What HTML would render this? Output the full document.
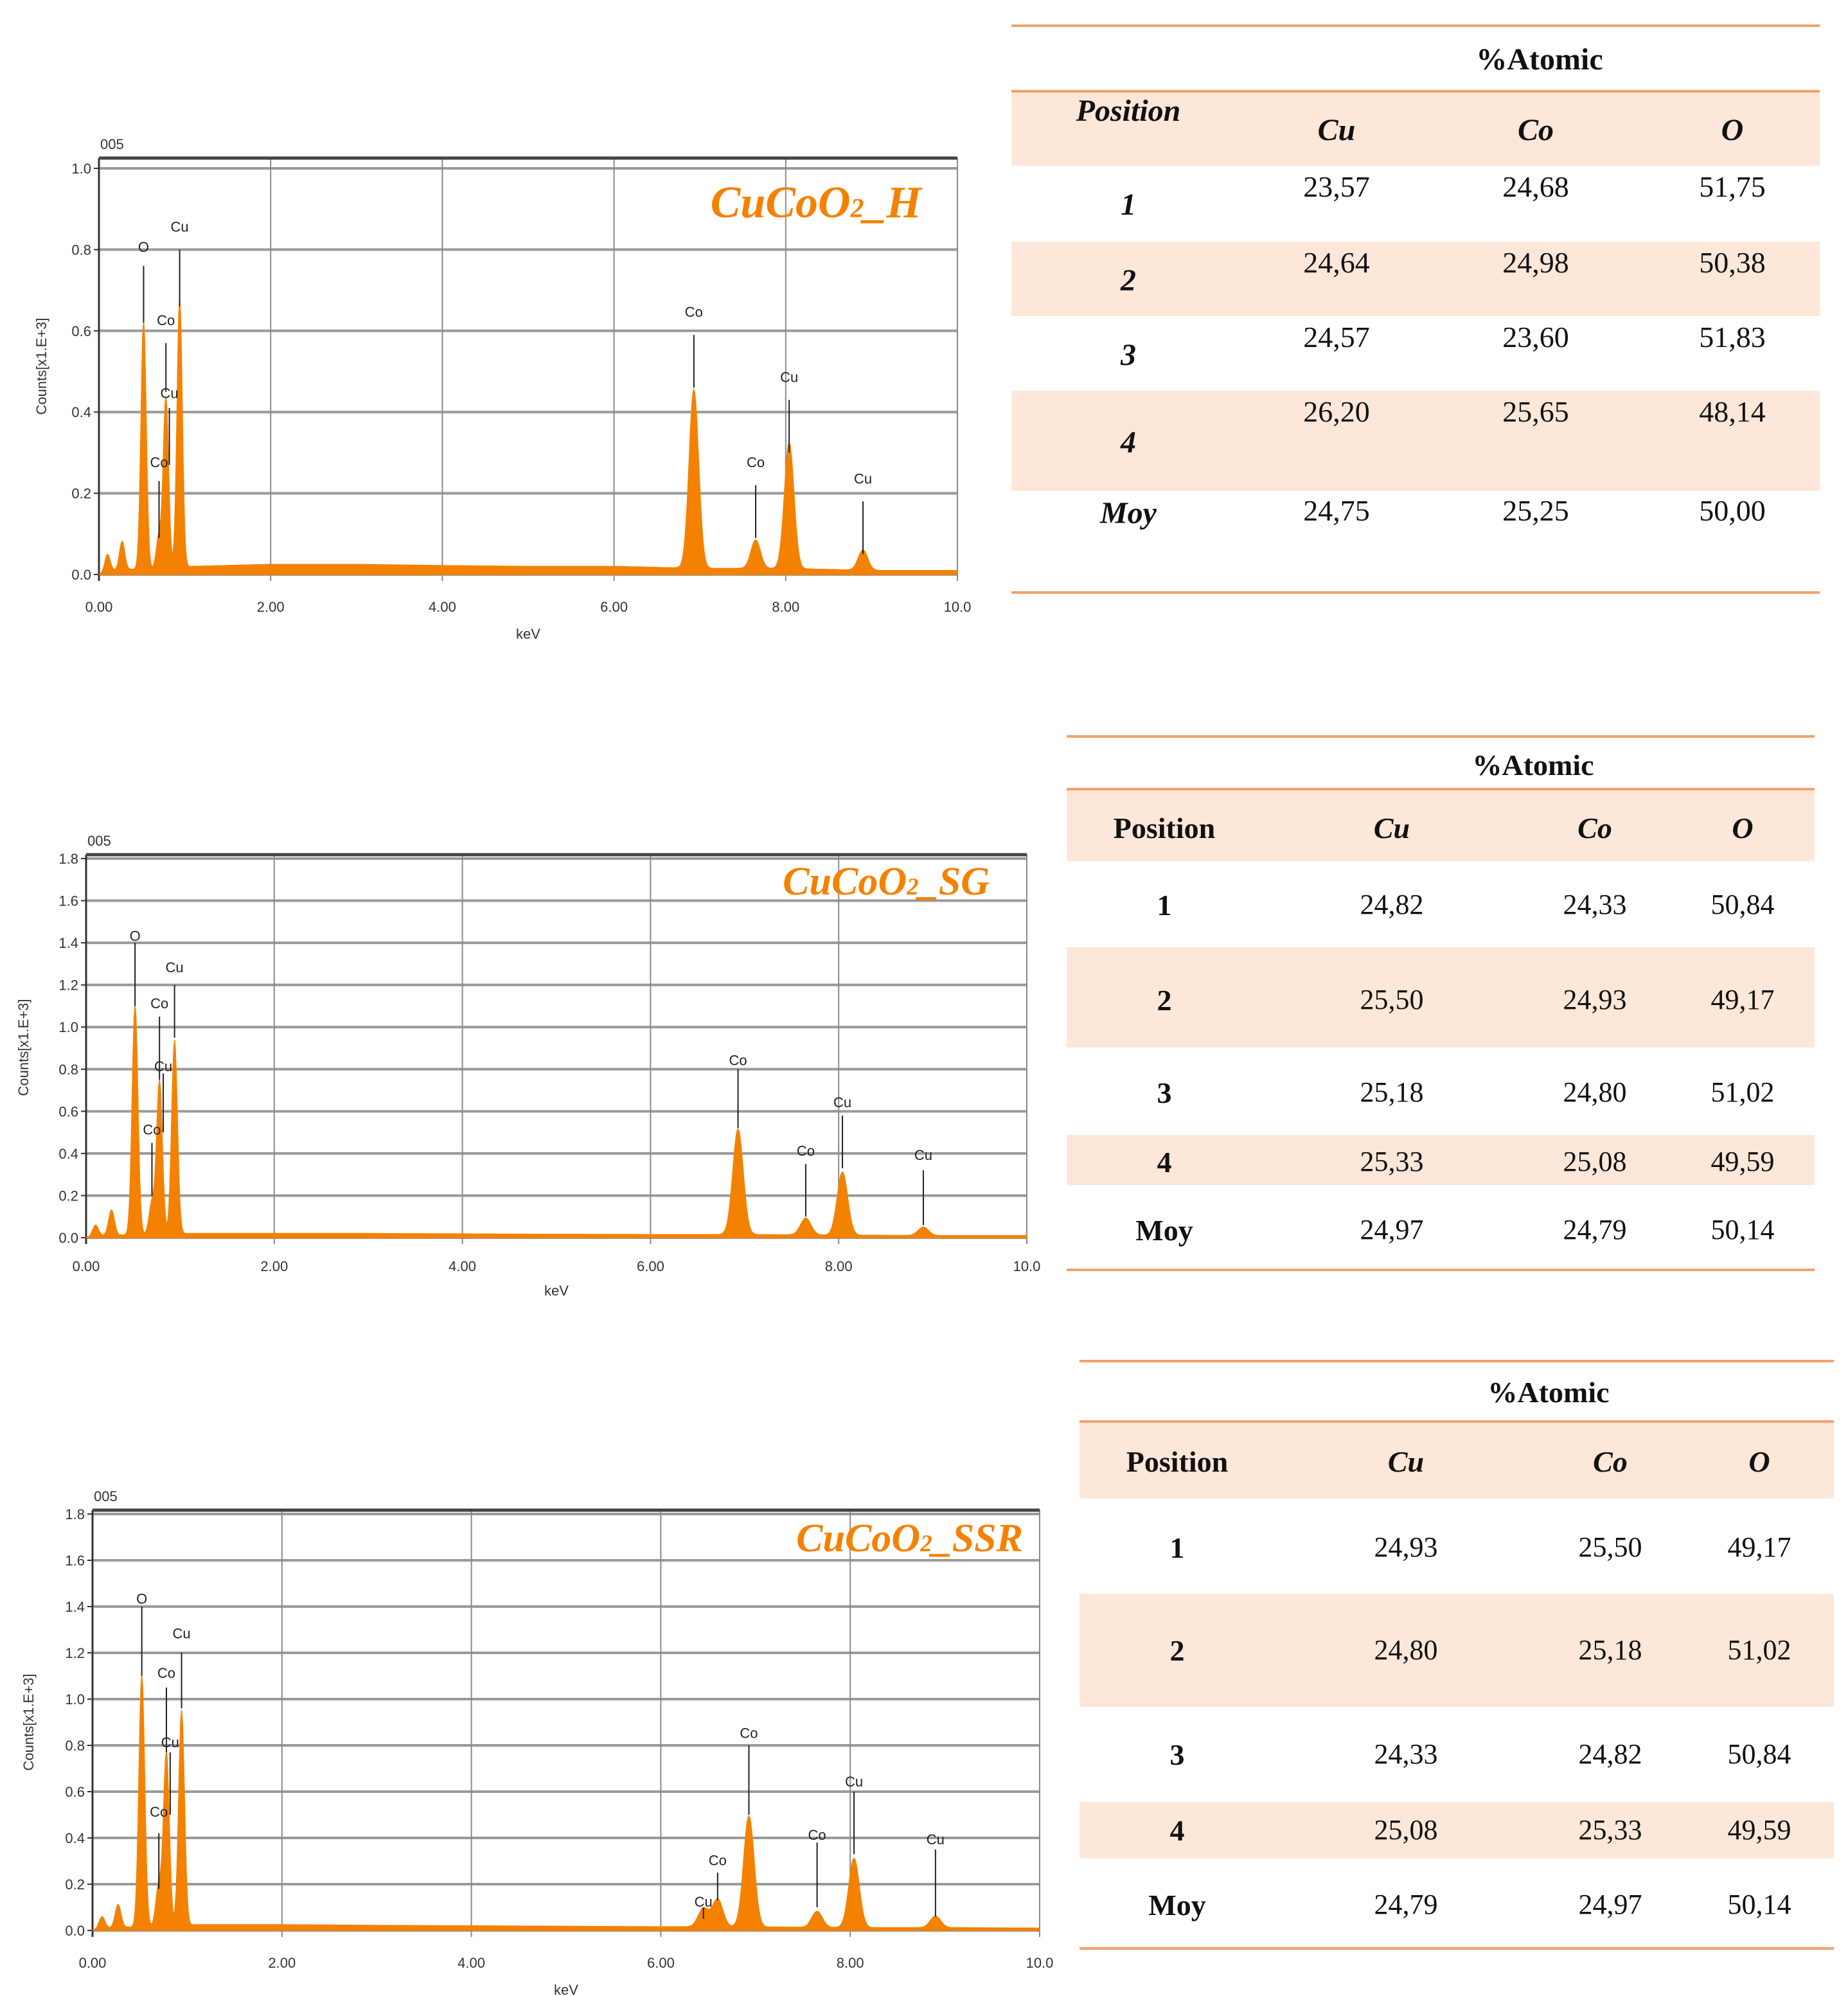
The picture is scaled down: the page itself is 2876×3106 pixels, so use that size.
<!DOCTYPE html>
<html><head><meta charset="utf-8">
<style>
html,body{margin:0;padding:0;background:#fff;}
svg{display:block;}
.tick{font-family:"Liberation Sans",sans-serif;font-size:22px;fill:#333;}
.pl{font-family:"Liberation Sans",sans-serif;font-size:22px;fill:#222;}
.tb{font-family:"Liberation Serif",serif;fill:#111;}
</style></head>
<body>
<svg id="root" width="2876" height="3106" viewBox="0 0 2876 3106" xmlns="http://www.w3.org/2000/svg"></svg>
<script>
// ---------- Chart data ----------
const c1PeakKeV = [0.10,0.27,0.52,0.70,0.78,0.94,6.93,7.65,8.04,8.90];
const c1PeakH   = [0.04,0.07,0.61,0.08,0.42,0.66,0.44,0.07,0.31,0.05];
const c1BgKeV   = [0,0.1,1.1,2,3,4,5,6,7,8,9,10];
const c1BgVal   = [0,0.01,0.02,0.025,0.025,0.022,0.02,0.02,0.015,0.015,0.01,0.01];
const c1LblText = ["O","Cu","Co","Cu","Co","Co","Co","Cu","Cu"];
const c1LblKeV  = [0.52,0.94,0.78,0.82,0.70,6.93,7.65,8.04,8.90];
const c1LblTop  = [0.81,0.86,0.63,0.45,0.28,0.65,0.28,0.49,0.24];
const c1LnTop   = [0.76,0.80,0.57,0.41,0.23,0.59,0.22,0.43,0.18];
const c1LnBot   = [0.62,0.66,0.45,0.27,0.09,0.46,0.09,0.30,0.05];

const c2PeakKeV = [0.10,0.27,0.52,0.70,0.78,0.94,6.93,7.65,8.04,8.90];
const c2PeakH   = [0.05,0.12,1.09,0.15,0.73,0.92,0.50,0.08,0.30,0.04];
const c2BgKeV   = [0,0.1,1.1,2,3,4,5,6,7,8,9,10];
const c2BgVal   = [0,0.01,0.02,0.02,0.02,0.018,0.016,0.015,0.015,0.012,0.01,0.01];
const c2LblText = ["O","Cu","Co","Cu","Co","Co","Co","Cu","Cu"];
const c2LblKeV  = [0.52,0.94,0.78,0.82,0.70,6.93,7.65,8.04,8.90];
const c2LblTop  = [1.44,1.29,1.12,0.82,0.52,0.85,0.42,0.65,0.40];
const c2LnTop   = [1.40,1.20,1.05,0.78,0.45,0.80,0.35,0.58,0.32];
const c2LnBot   = [1.10,0.95,0.75,0.50,0.20,0.52,0.10,0.33,0.06];

const c3PeakKeV = [0.10,0.27,0.52,0.70,0.78,0.94,6.45,6.60,6.93,7.65,8.04,8.90];
const c3PeakH   = [0.05,0.10,1.09,0.18,0.75,0.93,0.08,0.12,0.48,0.07,0.30,0.05];
const c3BgKeV   = [0,0.1,1.1,2,3,4,5,6,7,8,9,10];
const c3BgVal   = [0,0.01,0.025,0.025,0.022,0.02,0.018,0.016,0.015,0.012,0.012,0.01];
const c3LblText = ["O","Cu","Co","Cu","Co","Cu","Co","Co","Co","Cu","Cu"];
const c3LblKeV  = [0.52,0.94,0.78,0.82,0.70,6.45,6.60,6.93,7.65,8.04,8.90];
const c3LblTop  = [1.44,1.29,1.12,0.82,0.52,0.13,0.31,0.86,0.42,0.65,0.40];
const c3LnTop   = [1.40,1.20,1.05,0.77,0.42,0.10,0.25,0.80,0.38,0.60,0.35];
const c3LnBot   = [1.10,0.96,0.77,0.50,0.18,0.05,0.13,0.50,0.10,0.33,0.06];

const xTicks = ["0.00","2.00","4.00","6.00","8.00","10.0"];
const xTickVals = [0,2,4,6,8,10];
const yTicks1 = ["0.0","0.2","0.4","0.6","0.8","1.0"];
const yTickVals1 = [0,0.2,0.4,0.6,0.8,1.0];
const yTicks2 = ["0.0","0.2","0.4","0.6","0.8","1.0","1.2","1.4","1.6","1.8"];
const yTickVals2 = [0,0.2,0.4,0.6,0.8,1.0,1.2,1.4,1.6,1.8];

// ---------- Table data ----------
const t1Pos = ["1","2","3","4","Moy"];
const t1Cu = ["23,57","24,64","24,57","26,20","24,75"];
const t1Co = ["24,68","24,98","23,60","25,65","25,25"];
const t1O  = ["51,75","50,38","51,83","48,14","50,00"];
const t2Pos = ["1","2","3","4","Moy"];
const t2Cu = ["24,82","25,50","25,18","25,33","24,97"];
const t2Co = ["24,33","24,93","24,80","25,08","24,79"];
const t2O  = ["50,84","49,17","51,02","49,59","50,14"];
const t3Pos = ["1","2","3","4","Moy"];
const t3Cu = ["24,93","24,80","24,33","25,08","24,79"];
const t3Co = ["25,50","25,18","24,82","25,33","24,97"];
const t3O  = ["49,17","51,02","50,84","49,59","50,14"];

const NS="http://www.w3.org/2000/svg";
const root=document.getElementById('root');
function mk(tag,attrs,parent,text){const e=document.createElementNS(NS,tag);for(const k in attrs)e.setAttribute(k,attrs[k]);if(text!==undefined)e.textContent=text;(parent||root).appendChild(e);return e;}

function interp(xs,ys,x){for(let i=0;i<xs.length-1;i++){if(x>=xs[i]&&x<=xs[i+1]){const t=(x-xs[i])/(xs[i+1]-xs[i]);return ys[i]+t*(ys[i+1]-ys[i]);}}return ys[ys.length-1];}

function drawChart(o){
  const g=mk('g',{});
  
  
  const X=k=>o.left+(o.right-o.left)*k/10;
  const Y=v=>o.y0-(o.y0-o.yTop)*v/o.yMax;
  // grid
  o.yVals.forEach((v,i)=>{
    const l=mk('line',{x1:o.left,x2:o.right,y1:Y(v),y2:Y(v),stroke:'#9a9a9a','stroke-width':4},g);
    
    
    mk('line',{x1:o.left-8,x2:o.left,y1:Y(v),y2:Y(v),stroke:'#333','stroke-width':2},g);
    const t=mk('text',{x:o.left-12,y:Y(v)+8,'text-anchor':'end',class:'tick'},g,o.yLabels[i]);
    
    
  });
  xTickVals.forEach((k,i)=>{
    const l=mk('line',{x1:X(k),x2:X(k),y1:o.frameTop,y2:o.y0+10,stroke:k===0?'#333':'#8a8a8a','stroke-width':k===0?3:2},g);
    
    
    const t=mk('text',{x:X(k),y:o.xlabY,'text-anchor':'middle',class:'tick'},g,xTicks[i]);
    
    
  });
  mk('line',{x1:o.left,x2:o.right,y1:o.frameTop,y2:o.frameTop,stroke:'#444','stroke-width':5},g);
  // spectrum
  let d='M'+X(0)+','+Y(0);
  for(let i=0;i<=1000;i++){
    const k=i/100;
    let v=interp(o.bgK,o.bgV,k);
    for(let j=0;j<o.pk.length;j++){const s=o.pk[j]<2?0.03:0.055;v+=o.ph[j]*Math.exp(-Math.pow(k-o.pk[j],2)/(2*s*s));}
    d+=' L'+X(k).toFixed(1)+','+Y(v).toFixed(1);
  }
  d+=' L'+X(10)+','+Y(0)+' Z';
  const p=mk('path',{d:d,fill:'#f58100',stroke:'#f58100','stroke-width':1.5},g);
  
  
  // peak labels
  o.lt.forEach((s,i)=>{
    const t=mk('text',{x:X(o.lk[i]),y:Y(o.ltop[i])+10,'text-anchor':'middle',class:'pl'},g,s);
    
    
    mk('line',{x1:X(o.lk[i]),x2:X(o.lk[i]),y1:Y(o.lnT[i]),y2:Y(o.lnB[i]),stroke:'#222','stroke-width':2},g);
  });
  const t0=mk('text',{x:o.left+2,y:o.frameTop-14,class:'tick'},g,'005');
  
  
  const yl=mk('text',{x:0,y:0,transform:`translate(${o.ylX},${o.ylY}) rotate(-90)`,'text-anchor':'middle',class:'tick','font-size':26},g,'Counts[x1.E+3]');
  
  
  const xl=mk('text',{x:(o.left+o.right)/2,y:o.kevY,'text-anchor':'middle',class:'tick'},g,'keV');
  
  
  const tt=mk('text',{x:o.tX,y:o.tY,'text-anchor':'end','font-family':'"Liberation Serif",serif','font-style':'italic','font-weight':'bold','font-size':o.tS,fill:'#f58100'},g);
  
  
  mk('tspan',{},tt,'CuCoO');
  mk('tspan',{'font-size':o.tS*0.6},tt,'2');
  mk('tspan',{},tt,'_'+o.suffix);
}

drawChart({name:'eds-chart-h',left:154,right:1490,frameTop:246,yTop:262,y0:894,yMax:1.0,yVals:yTickVals1,yLabels:yTicks1,
 xlabY:952,kevY:994,ylX:72,ylY:570,pk:c1PeakKeV,ph:c1PeakH,bgK:c1BgKeV,bgV:c1BgVal,lt:c1LblText,lk:c1LblKeV,ltop:c1LblTop,lnT:c1LnTop,lnB:c1LnBot,
 tX:1434,tY:338,tS:70,suffix:'H'});
drawChart({name:'eds-chart-sg',left:134,right:1598,frameTop:1330,yTop:1336,y0:1926,yMax:1.8,yVals:yTickVals2,yLabels:yTicks2,
 xlabY:1978,kevY:2016,ylX:44,ylY:1630,pk:c2PeakKeV,ph:c2PeakH,bgK:c2BgKeV,bgV:c2BgVal,lt:c2LblText,lk:c2LblKeV,ltop:c2LblTop,lnT:c2LnTop,lnB:c2LnBot,
 tX:1540,tY:1392,tS:62,suffix:'SG'});
drawChart({name:'eds-chart-ssr',left:144,right:1618,frameTop:2350,yTop:2356,y0:3004,yMax:1.8,yVals:yTickVals2,yLabels:yTicks2,
 xlabY:3062,kevY:3104,ylX:52,ylY:2680,pk:c3PeakKeV,ph:c3PeakH,bgK:c3BgKeV,bgV:c3BgVal,lt:c3LblText,lk:c3LblKeV,ltop:c3LblTop,lnT:c3LnTop,lnB:c3LnBot,
 tX:1592,tY:2414,tS:62,suffix:'SSR'});

function drawTable(o){
  const g=mk('g',{});
  
  
  o.fills.forEach(f=>mk('rect',{x:o.x1,y:f[0],width:o.x2-o.x1,height:f[1]-f[0],fill:'#fce7d9'},g));
  o.lines.forEach(y=>mk('line',{x1:o.x1,x2:o.x2,y1:y,y2:y,stroke:'#f4a06a','stroke-width':4},g));
  const it=o.italic?'italic':'normal';
  const a=mk('text',{x:o.atX,y:o.atY,'text-anchor':'middle',class:'tb','font-weight':'bold','font-size':o.fs},g,'%Atomic');
  
  
  const hd=[['Position',o.cols[0],o.hPosY],['Cu',o.cols[1],o.hY],['Co',o.cols[2],o.hY],['O',o.cols[3],o.hY]];
  hd.forEach((h,i)=>{
    const t=mk('text',{x:h[1],y:h[2],'text-anchor':'middle',class:'tb','font-weight':'bold','font-style':(i===0&&!o.italic)?'normal':'italic','font-size':o.fs},g,h[0]);
    
    
  });
  for(let r=0;r<5;r++){
    const t=mk('text',{x:o.cols[0],y:o.posY[r],'text-anchor':'middle',class:'tb','font-weight':'bold','font-style':it,'font-size':o.fs},g,o.pos[r]);
    
    
    [o.cu,o.co,o.ox].forEach((arr,c)=>{
      const v=mk('text',{x:o.cols[c+1],y:o.valY[r],'text-anchor':'middle',class:'tb','font-size':o.vfs},g,arr[r]);
      
      
    });
  }
}
drawTable({name:'table-h',x1:1574,x2:2832,lines:[40,142,922],fills:[[142,258],[376,492],[608,764]],italic:true,fs:48,vfs:46,
 atX:2396,atY:108,hPosY:188,hY:218,cols:[1756,2080,2390,2696],
 posY:[334,452,568,704,814],valY:[306,424,540,656,810],pos:t1Pos,cu:t1Cu,co:t1Co,ox:t1O});
drawTable({name:'table-sg',x1:1660,x2:2824,lines:[1146,1228,1976],fills:[[1228,1340],[1474,1630],[1766,1844]],italic:false,fs:46,vfs:44,
 atX:2386,atY:1206,hPosY:1304,hY:1304,cols:[1812,2166,2482,2712],
 posY:[1424,1572,1716,1824,1930],valY:[1422,1570,1714,1822,1928],pos:t2Pos,cu:t2Cu,co:t2Co,ox:t2O});
drawTable({name:'table-ssr',x1:1680,x2:2854,lines:[2118,2212,3032],fills:[[2212,2332],[2480,2656],[2804,2892]],italic:false,fs:46,vfs:44,
 atX:2410,atY:2182,hPosY:2290,hY:2290,cols:[1832,2188,2506,2738],
 posY:[2424,2584,2746,2864,2980],valY:[2422,2582,2744,2862,2978],pos:t3Pos,cu:t3Cu,co:t3Co,ox:t3O});
</script>
</body></html>
